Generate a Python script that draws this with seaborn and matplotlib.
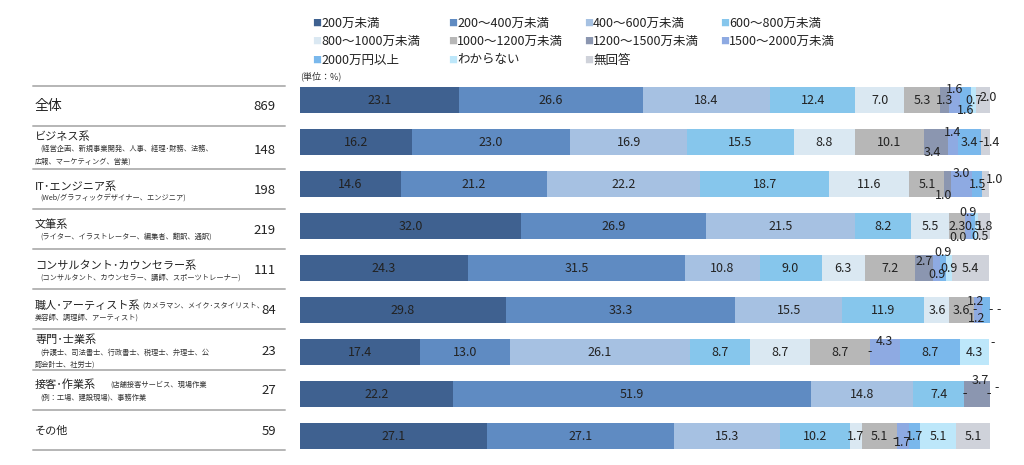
import numpy as np
import pandas as pd
import matplotlib.pyplot as plt
from matplotlib.lines import Line2D
import seaborn as sns

# income bands (legend order)
categories = ["200万未満", "200～400万未満", "400～600万未満", "600～800万未満",
              "800～1000万未満", "1000～1200万未満", "1200～1500万未満", "1500～2000万未満",
              "2000万円以上", "わからない", "無回答"]

rows = ["全体", "ビジネス系", "IT･エンジニア系", "文筆系", "コンサルタント･カウンセラー系",
        "職人･アーティスト系", "専門･士業系", "接客･作業系", "その他"]
counts = [869, 148, 198, 219, 111, 84, 23, 27, 59]

# nan = "-" in the source table
zentai      = [23.1, 26.6, 18.4, 12.4, 7.0, 5.3, 1.3, 1.6, 1.6, 0.7, 2.0]
business    = [16.2, 23.0, 16.9, 15.5, 8.8, 10.1, 3.4, 1.4, 3.4, np.nan, 1.4]
it_eng      = [14.6, 21.2, 22.2, 18.7, 11.6, 5.1, 1.0, 3.0, 1.5, np.nan, 1.0]
writing     = [32.0, 26.9, 21.5, 8.2, 5.5, 2.3, 0.0, 0.9, 0.5, 0.5, 1.8]
consultant  = [24.3, 31.5, 10.8, 9.0, 6.3, 7.2, 2.7, 0.9, 0.9, 0.9, 5.4]
artisan     = [29.8, 33.3, 15.5, 11.9, 3.6, 3.6, np.nan, 1.2, 1.2, np.nan, np.nan]
specialist  = [17.4, 13.0, 26.1, 8.7, 8.7, 8.7, np.nan, 4.3, 8.7, 4.3, np.nan]
service     = [22.2, 51.9, 14.8, 7.4, np.nan, np.nan, 3.7, np.nan, np.nan, np.nan, np.nan]
other       = [27.1, 27.1, 15.3, 10.2, 1.7, 5.1, np.nan, 1.7, 1.7, 5.1, 5.1]

colors = ["#3f6190", "#5f8bc2", "#a6c1e2", "#86c6ec", "#dae8f2", "#b7b7b7",
          "#8b96b0", "#8eaae2", "#7ab8ec", "#bde7fa", "#cfd2da"]

values = pd.DataFrame([zentai, business, it_eng, writing, consultant,
                       artisan, specialist, service, other],
                      index=rows, columns=categories)
vals = values.fillna(0).to_numpy()
cum = vals.cumsum(axis=1)

sns.set_theme(style="white")
plt.rcParams['font.family'] = ['Noto Sans CJK JP', 'DejaVu Sans']

W, H = 1024, 465
fig = plt.figure(figsize=(W / 100, H / 100), dpi=100)
fx = lambda px: px / W
fy = lambda py: 1 - py / H

ax = fig.add_axes([fx(300), fy(457), fx(990) - fx(300), fy(79) - fy(457)])

# stacked bars: draw running totals from the widest down
for k in range(len(categories) - 1, -1, -1):
    d = pd.DataFrame({"row": rows, "cum": cum[:, k]})
    sns.barplot(data=d, x="cum", y="row", orient="h", color=colors[k],
                saturation=1, width=0.62, edgecolor="none", ax=ax)

ax.set_xlim(0, 100)
ax.set_ylim(8.5, -0.5)
ax.set(xlabel="", ylabel="", xticks=[], yticks=[])
sns.despine(ax=ax, left=True, bottom=True)

# label nudges for the thin segments (dx in %, dy in rows)
shift = {
    (0, 7): (0, -0.26), (0, 8): (0, 0.26), (0, 10): (0.7, -0.05),
    (1, 6): (-0.6, 0.24), (1, 7): (0, -0.22), (1, 10): (0.8, 0),
    (2, 6): (-0.6, 0.27), (2, 7): (0, -0.24), (2, 9): (0, 0.12), (2, 10): (1.2, -0.1),
    (3, 6): (-1.0, 0.27), (3, 7): (0, -0.33), (3, 9): (0.5, 0.26),
    (4, 6): (0, -0.15), (4, 7): (0, 0.15), (4, 8): (0, -0.36),
    (5, 7): (-0.4, -0.2), (5, 8): (-1.5, 0.2), (5, 10): (1.1, 0),
    (6, 7): (0, -0.24), (6, 10): (0.5, -0.22),
    (7, 6): (0.4, -0.33), (7, 7): (-0.2, 0), (7, 8): (-0.2, 0), (7, 9): (0.9, -0.15),
    (8, 6): (-0.3, 0.05), (8, 7): (0, 0.15),
}
hidden = {(7, 10)}

for i in range(len(rows)):
    for k in range(len(categories)):
        if (i, k) in hidden:
            continue
        v = values.iat[i, k]
        dx, dy = shift.get((i, k), (0, 0))
        txt = "-" if np.isnan(v) else f"{v:.1f}"
        ax.text(cum[i, k] - vals[i, k] / 2 + dx, i + dy, txt, ha="center",
                va="center", fontsize=9, color="#222222")

# legend (row-wise, 4 columns)
for k, name in enumerate(categories):
    x = 312 + 136 * (k % 4)
    y = 23 + 18.5 * (k // 4)
    fig.text(fx(x), fy(y), "■", color=colors[k], fontsize=6.5, ha="left", va="center")
    fig.text(fx(x + 9), fy(y), name, fontsize=9, color="#222222", ha="left", va="center")
fig.text(fx(300), fy(76), "(単位：%)", fontsize=6.5, color="#333333", ha="left", va="center")

# left-side table
lines_y = [86, 126, 169, 209, 249, 289, 329, 370, 410, 450]
for ly in lines_y:
    fig.add_artist(Line2D([fx(33), fx(285)], [fy(ly), fy(ly)], color="#b5b5b5", lw=1.4))

left_main = [(106, "全体", 10), (137, "ビジネス系", 8), (187, "IT･エンジニア系", 8),
             (225, "文筆系", 8), (266, "コンサルタント･カウンセラー系", 8),
             (306, "職人･アーティスト系", 8), (340, "専門･士業系", 8),
             (385, "接客･作業系", 8), (431, "その他", 8)]
for y, t, fs in left_main:
    fig.text(fx(35), fy(y), t, fontsize=fs, color="#222222", ha="left", va="center")

left_sub = [(40, 149, "(経営企画、新規事業開発、人事、経理･財務、法務、"),
            (35, 162, "広報、マーケティング、営業)"),
            (40, 198, "(Web/グラフィックデザイナー、エンジニア)"),
            (40, 237, "(ライター、イラストレーター、編集者、翻訳、通訳)"),
            (40, 278, "(コンサルタント、カウンセラー、講師、スポーツトレーナー)"),
            (142, 306, "(カメラマン、メイク･スタイリスト、"),
            (35, 318, "美容師、調理師、アーティスト)"),
            (40, 353, "(弁護士、司法書士、行政書士、税理士、弁理士、公"),
            (35, 365, "認会計士、社労士)"),
            (110, 385, "(店舗接客サービス、現場作業"),
            (40, 398, "(例：工場、建設現場)、事務作業")]
for x, y, t in left_sub:
    fig.text(fx(x), fy(y), t, fontsize=5.2, color="#333333", ha="left", va="center")

count_y = [106, 150, 190, 230, 271, 311, 351, 391, 431]
for y, n in zip(count_y, counts):
    fig.text(fx(276), fy(y), str(n), fontsize=9.5, color="#222222", ha="right", va="center")

fig.savefig("out.png", dpi=100)
